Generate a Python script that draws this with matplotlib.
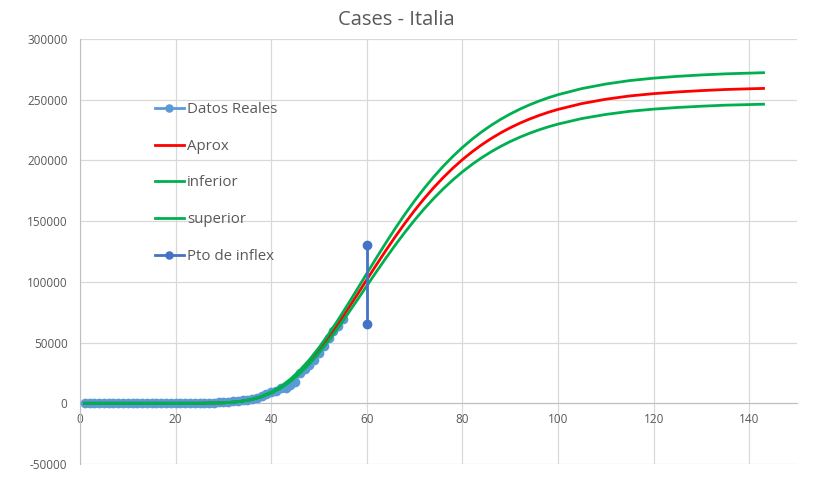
import matplotlib
matplotlib.use('Agg')
import matplotlib.pyplot as plt

# datos reales (dia, casos)
dias = list(range(1, 56))
casos = [2, 2, 2, 2, 2, 2, 3, 3, 3, 3, 3, 3, 3, 3, 3, 3, 3, 3, 3, 3,
         3, 3, 20, 79, 150, 227, 320, 445, 650, 888, 1128, 1694, 2036, 2502, 3089,
         3858, 4636, 5883, 7375, 9172, 10149, 12462, 12462, 15113, 17660,
         24747, 27980, 31506, 35713, 41035, 47021, 53578, 59138, 63927, 69176]

# modelo (aprox, inferior, superior)
x_mod = [1, 5, 10, 15, 20, 25, 30, 32, 34, 36, 38, 40, 42, 44, 46, 48, 50, 52, 54, 56,
         58, 60, 62, 64, 66, 68, 70, 72, 74, 76, 78, 80, 82, 84, 86, 88, 90, 92, 94, 96,
         98, 100, 105, 110, 115, 120, 125, 130, 135, 140, 143]
aprox = [0, 0, 0, 0, 1, 35, 408, 892, 1769, 3229, 5496, 8741, 13151, 18860, 25890,
         34200, 43690, 54180, 65460, 77310, 89500, 101800, 113980, 125910, 137430,
         148420, 158820, 168550, 177600, 185950, 193630, 200640, 207020, 212790,
         218000, 222690, 226890, 230650, 234010, 237000, 239680, 242030, 246840,
         250400, 253100, 255000, 256400, 257500, 258400, 259000, 259300]
inferior = [0, 0, 0, 0, 1, 33, 388, 847, 1681, 3068, 5221, 8304, 12493, 17917, 24596,
            32490, 41506, 51471, 62187, 73445, 85025, 96710, 108281, 119615, 130559,
            140999, 150879, 160123, 168720, 176653, 183949, 190608, 196669, 202151,
            207100, 211556, 215546, 219118, 222310, 225150, 227696, 229929, 234498,
            237880, 240450, 242250, 243600, 244650, 245500, 246000, 246300]
superior = [0, 0, 0, 0, 1, 37, 428, 937, 1857, 3390, 5771, 9178, 13809, 19803, 27185,
            35910, 45875, 56889, 68733, 81176, 93975, 106890, 119679, 132206, 144302,
            155841, 166761, 176978, 186480, 195248, 203312, 210672, 217371, 223430,
            228900, 233825, 238235, 242183, 245711, 248850, 251664, 254132, 259182,
            262920, 265750, 267750, 269250, 270400, 271300, 271900, 272250]

# punto de inflexion
x_inflex = [60, 60]
y_inflex = [130000, 65000]

plt.rcParams['font.family'] = ['Open Sans', 'DejaVu Sans']
plt.rcParams['axes.unicode_minus'] = False
gris = '#595959'

fig = plt.figure(figsize=(8.16, 4.91), dpi=100)
ax = fig.add_axes([80 / 816, 1 - 464 / 491, 717 / 816, 425 / 491])

ax.plot(dias, casos, color='#5B9BD5', lw=2, marker='o', ms=6, label='Datos Reales', zorder=3)
ax.plot(x_mod, aprox, color='#FF0000', lw=2, label='Aprox', zorder=4)
ax.plot(x_mod, inferior, color='#00B050', lw=2, label='inferior', zorder=5)
ax.plot(x_mod, superior, color='#00B050', lw=2, label='superior', zorder=5)
ax.plot(x_inflex, y_inflex, color='#4472C4', lw=2, marker='o', ms=6, label='Pto de inflex', zorder=6)

ax.set_xlim(0, 150)
ax.set_ylim(-50000, 300000)
ax.set_xticks(range(0, 141, 20))
ax.set_yticks(range(-50000, 300001, 50000))
ax.grid(True, color='#D9D9D9', lw=0.9)
ax.set_axisbelow(True)

for s in ['top', 'right']:
    ax.spines[s].set_visible(False)
ax.spines['bottom'].set_position(('data', 0))
ax.spines['bottom'].set_color('#BFBFBF')
ax.spines['left'].set_color('#BFBFBF')
ax.tick_params(length=0, colors=gris, labelsize=8.5)
ax.tick_params(axis='y', pad=9)
ax.tick_params(axis='x', pad=7)

fig.text(396 / 816, 1 - 20 / 491, 'Cases - Italia', ha='center', va='center', fontsize=14.5, color=gris)

ax.legend(loc='upper left', bbox_to_anchor=(155 / 816, 1 - 102 / 491),
          bbox_transform=fig.transFigure, frameon=False, fontsize=10.8,
          handlelength=1.9, handletextpad=0.25, labelspacing=1.45,
          borderpad=0, borderaxespad=0, labelcolor=gris, markerscale=0.85)

fig.savefig('out.png', dpi=100)
